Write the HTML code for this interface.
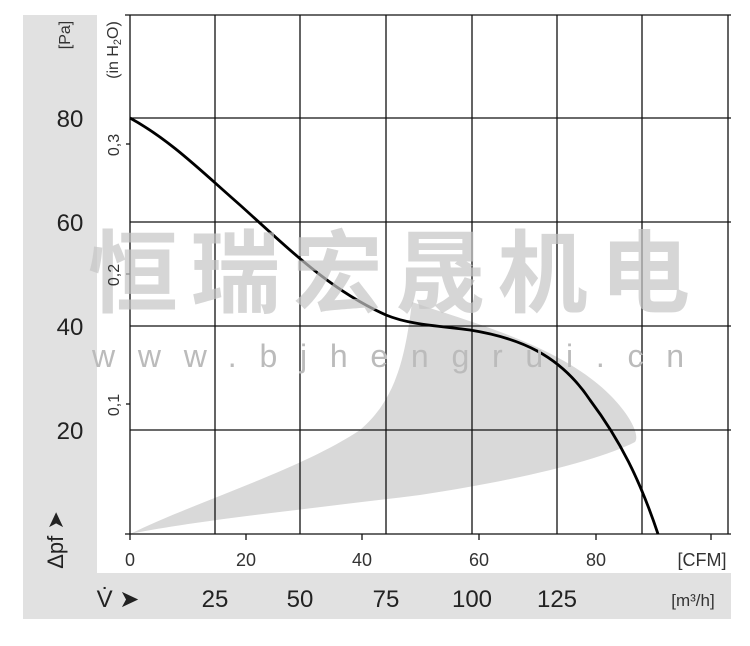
<!DOCTYPE html>
<html><head><meta charset="utf-8"><style>
body{margin:0;background:#fff;width:750px;height:641px;overflow:hidden;font-family:"Liberation Sans",sans-serif}
</style></head><body>
<svg width="750" height="641" xmlns="http://www.w3.org/2000/svg" font-family="Liberation Sans, sans-serif">
<rect x="23" y="15" width="708" height="604" fill="#e1e1e1"/>
<rect x="97" y="15" width="634" height="558" fill="#fff"/>
<path d="M130,534 C200,500 300,470 360,430 C395,400 405,360 412,302 C470,322 560,345 610,395 C630,415 640,435 635,442 C600,460 520,480 420,495 C300,510 200,520 130,534 Z" fill="#d9d9d9"/>
<g stroke="#111" stroke-width="1.3">
<line x1="125" y1="15" x2="731" y2="15"/>
<line x1="130" y1="118" x2="731" y2="118"/>
<line x1="130" y1="222" x2="731" y2="222"/>
<line x1="130" y1="326" x2="731" y2="326"/>
<line x1="130" y1="430" x2="731" y2="430"/>
<line x1="125" y1="534" x2="731" y2="534"/>
<line x1="130" y1="15" x2="130" y2="540"/>
<line x1="215" y1="15" x2="215" y2="534"/>
<line x1="300" y1="15" x2="300" y2="534"/>
<line x1="386" y1="15" x2="386" y2="534"/>
<line x1="472" y1="15" x2="472" y2="534"/>
<line x1="557" y1="15" x2="557" y2="534"/>
<line x1="642" y1="15" x2="642" y2="534"/>
<line x1="728" y1="15" x2="728" y2="534"/>
<line x1="246" y1="534" x2="246" y2="540"/>
<line x1="362" y1="534" x2="362" y2="540"/>
<line x1="479" y1="534" x2="479" y2="540"/>
<line x1="596" y1="534" x2="596" y2="540"/>
<line x1="711" y1="534" x2="711" y2="540"/>
<line x1="126" y1="144" x2="130" y2="144"/>
<line x1="126" y1="274" x2="130" y2="274"/>
<line x1="126" y1="404" x2="130" y2="404"/>
</g>
<path d="M130,118 C170,140 200,170 240,205 C290,250 330,290 386,315 C410,325 440,326 470,330 C520,338 560,355 590,400 C620,440 640,480 658,534" fill="none" stroke="#000" stroke-width="2.8"/>
<text x="88" y="305" font-size="90" font-weight="bold" fill="#c4c4c4" fill-opacity="0.7" textLength="602" lengthAdjust="spacing" font-family="Liberation Sans, Noto Sans CJK SC, sans-serif">恒瑞宏晟机电</text>
<text x="92" y="367" font-size="32" fill="#bbbbbb" textLength="592" lengthAdjust="spacing">www.bjhengrui.cn</text>
<g font-size="24" fill="#222" text-anchor="middle">
<text x="70" y="127">80</text><text x="70" y="231">60</text><text x="70" y="335">40</text><text x="70" y="439">20</text>
</g>
<g font-size="16" fill="#333">
<text transform="translate(70,35) rotate(-90)" text-anchor="middle">[Pa]</text>
<text transform="translate(118,50) rotate(-90)" text-anchor="middle">(in H<tspan font-size="11" dy="3">2</tspan><tspan dy="-3">O)</tspan></text>
<text transform="translate(119,145) rotate(-90)" text-anchor="middle">0,3</text>
<text transform="translate(119,275) rotate(-90)" text-anchor="middle">0,2</text>
<text transform="translate(119,405) rotate(-90)" text-anchor="middle">0,1</text>
</g>
<g font-size="18" fill="#333">
<text x="130" y="566" text-anchor="middle">0</text><text x="246" y="566" text-anchor="middle">20</text>
<text x="362" y="566" text-anchor="middle">40</text><text x="479" y="566" text-anchor="middle">60</text>
<text x="596" y="566" text-anchor="middle">80</text><text x="702" y="566" text-anchor="middle">[CFM]</text>
</g>
<text x="693" y="606" font-size="17" fill="#333" text-anchor="middle">[m³/h]</text>
<text transform="translate(63,540) rotate(-90)" font-size="22" fill="#222" text-anchor="middle">Δpf ➤</text>
<g font-size="24" fill="#222" text-anchor="middle">
<text x="118" y="607">V̇ ➤</text>
<text x="215" y="607">25</text><text x="300" y="607">50</text><text x="386" y="607">75</text>
<text x="472" y="607">100</text><text x="557" y="607">125</text>
</g>
</svg>
</body></html>
